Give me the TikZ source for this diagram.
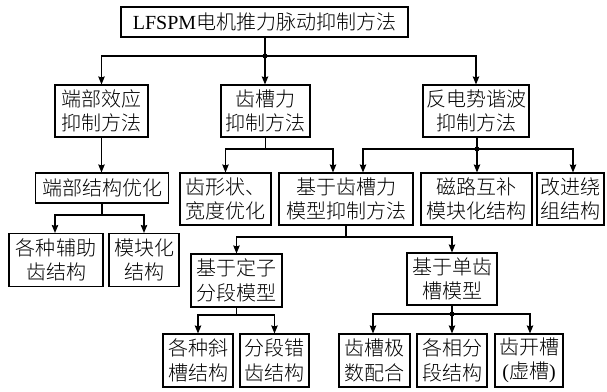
\documentclass[tikz,border=0pt]{standalone}
\usepackage{fontspec}
\setmainfont{Liberation Serif}
\newfontfamily\cjk{Noto Sans CJK SC Light}
\newcommand\zh[1]{{\cjk #1}}
\usetikzlibrary{arrows.meta}
\begin{document}
\begin{tikzpicture}[x=1pt,y=-1pt,
  box/.style={draw,line width=1.1pt,inner sep=0pt,align=center,
    font=\fontsize{20}{24.5}\selectfont},
  arr/.style={line width=1.1pt,-{Stealth[length=8pt,width=6.5pt,inset=1pt]}},
  ln/.style={line width=1.1pt},
  dotc/.style={circle,fill,inner sep=0pt,minimum size=5pt}]
\useasboundingbox (0,0) rectangle (607,391);
% level 0
\node[box,minimum width=287pt,minimum height=30pt] (top) at (264.5,22) {LFSPM\zh{电机推力脉动抑制方法}};
% level 1
\node[box,minimum width=93pt,minimum height=52pt] (A) at (101.5,111) {\zh{端部效应}\\\zh{抑制方法}};
\node[box,minimum width=89pt,minimum height=52pt] (B) at (265.5,111) {\zh{齿槽力}\\\zh{抑制方法}};
\node[box,minimum width=106pt,minimum height=52pt] (C) at (476,111) {\zh{反电势谐波}\\\zh{抑制方法}};
% level 2
\node[box,minimum width=133pt,minimum height=30pt] (A1) at (102,188) {\zh{端部结构优化}};
\node[box,minimum width=91pt,minimum height=52pt] (B1) at (225.5,199) {\zh{齿形状、}\\\zh{宽度优化}};
\node[box,minimum width=134pt,minimum height=52pt] (B2) at (346,199) {\zh{基于齿槽力}\\\zh{模型抑制方法}};
\node[box,minimum width=111pt,minimum height=52pt] (C1) at (476.5,199) {\zh{磁路互补}\\\zh{模块化结构}};
\node[box,minimum width=67pt,minimum height=52pt] (C2) at (570.5,199) {\zh{改进绕}\\\zh{组结构}};
% level 3
\node[box,minimum width=94pt,minimum height=53pt] (A11) at (56,260) {\zh{各种辅助}\\\zh{齿结构}};
\node[box,minimum width=70pt,minimum height=53pt] (A12) at (144,260) {\zh{模块化}\\\zh{结构}};
\node[box,minimum width=91pt,minimum height=53pt] (B21) at (236.5,280.5) {\zh{基于定子}\\\zh{分段模型}};
\node[box,minimum width=90pt,minimum height=52pt] (B22) at (452,279) {\zh{基于单齿}\\\zh{槽模型}};
% level 4
\node[box,minimum width=70pt,minimum height=53pt] (D1) at (198,360.5) {\zh{各种斜}\\\zh{槽结构}};
\node[box,minimum width=69pt,minimum height=53pt] (D2) at (274.5,360.5) {\zh{分段错}\\\zh{齿结构}};
\node[box,minimum width=71pt,minimum height=53pt] (E1) at (374.5,360.5) {\zh{齿槽极}\\\zh{数配合}};
\node[box,minimum width=70pt,minimum height=53pt] (E2) at (452,360.5) {\zh{各相分}\\\zh{段结构}};
\node[box,minimum width=68pt,minimum height=53pt] (E3) at (529,360.5) {\zh{齿开槽}\\(\zh{虚槽})};
% junctions
\coordinate (j0) at (265,56);
\coordinate (j1) at (265.5,149);
\coordinate (j2) at (477,149);
\coordinate (j3) at (102,215);
\coordinate (j4) at (346,237);
\coordinate (j5) at (236.5,315);
\coordinate (j6) at (452,314);
% connectors
\draw[ln] (top.south -| j0) -- (j0);
\draw[arr] (j0) -| (A.north);
\draw[arr] (j0) -- (j0 |- B.north);
\draw[arr] (j0) -| (C.north);
\node[dotc] (d0) at (j0) {};
\draw[arr] (A.south) -- (A.south |- A1.north);
\draw[ln] (B.south) -- (j1);
\draw[arr] (j1) -| (B1.north);
\draw[arr] (j1) -| ([xshift=-13pt]B2.north);
\draw[ln] (C.south -| j2) -- (j2);
\draw[arr] (j2) -| ([xshift=17pt]B2.north);
\draw[arr] (j2) -- (j2 |- C1.north);
\draw[arr] (j2) -| ([xshift=2.5pt]C2.north);
\node[dotc] (d2) at (j2) {};
\draw[ln] (A1.south) -- (j3);
\draw[arr] (j3) -| ([xshift=-1pt]A11.north);
\draw[arr] (j3) -| (A12.north);
\draw[ln] (B2.south) -- (j4);
\draw[arr] (j4) -| (B21.north);
\draw[arr] (j4) -| (B22.north);
\draw[ln] (B21.south) -- (j5);
\draw[arr] (j5) -| (D1.north);
\draw[arr] (j5) -| (D2.north);
\draw[ln] (B22.south) -- (j6);
\draw[arr] (j6) -| ([xshift=-1.5pt]E1.north);
\draw[arr] (j6) -- (E2.north);
\draw[arr] (j6) -| ([xshift=1pt]E3.north);
\node[dotc] (d6) at (j6) {};
\end{tikzpicture}
\end{document}
